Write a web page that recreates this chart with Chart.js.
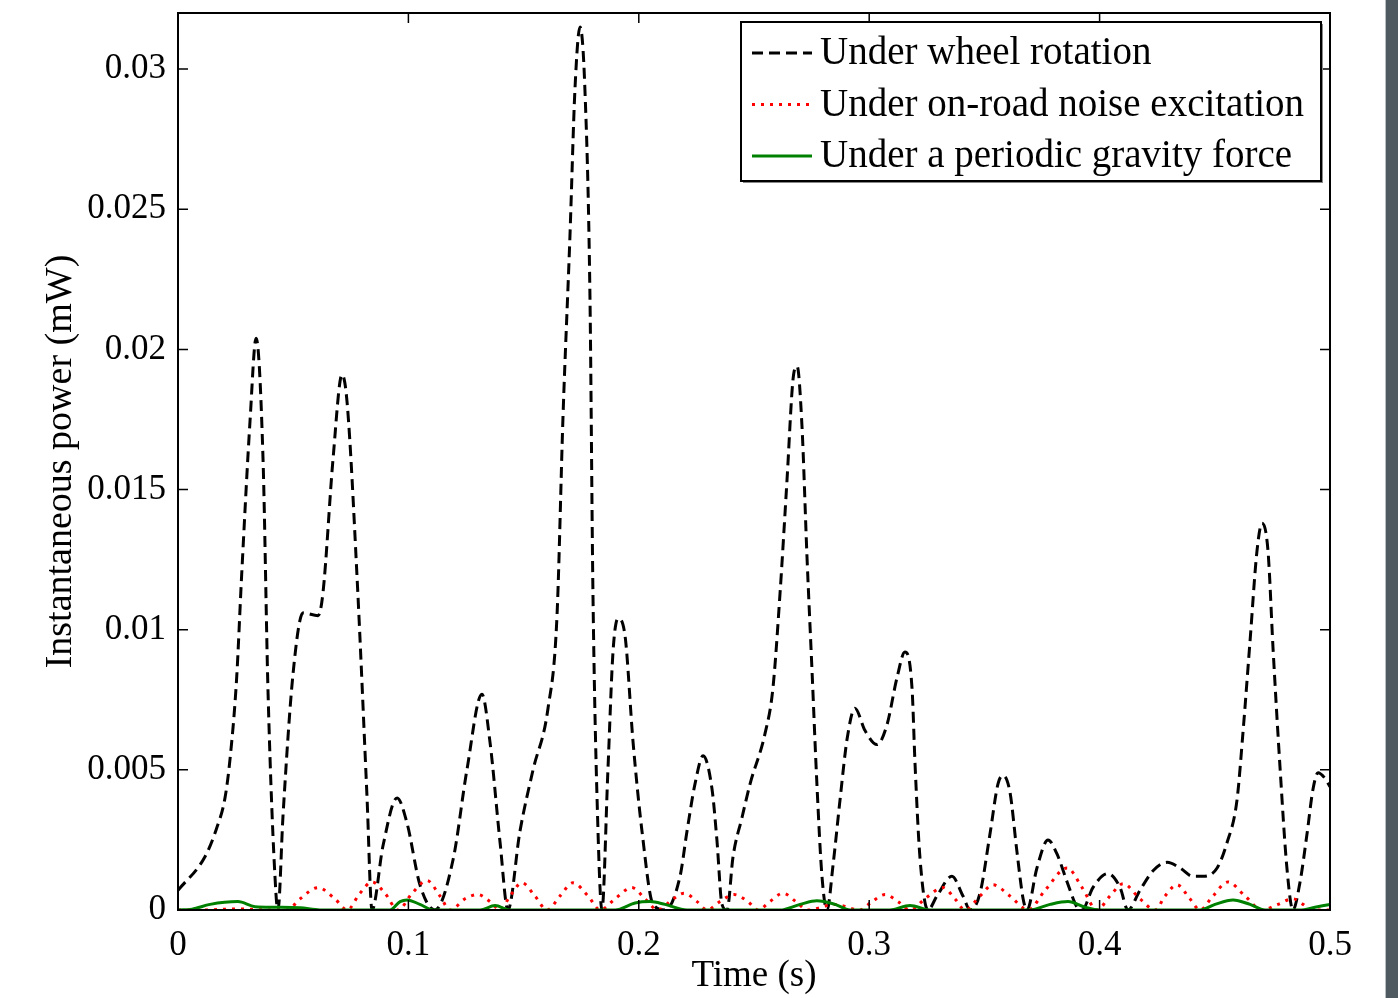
<!DOCTYPE html>
<html>
<head>
<meta charset="utf-8">
<script src="https://cdn.jsdelivr.net/npm/chart.js@4.4.1/dist/chart.umd.min.js"></script>
<style>
  html, body { margin: 0; padding: 0; background: #fff; }
  #wrap { position: relative; width: 1398px; height: 998px; }
  #strip { position: absolute; left: 1385px; top: 0; width: 13px; height: 998px; background: #4e5a5f; border-left: 1px solid #b8bfc2; box-sizing: border-box; }
</style>
</head>
<body>
<div id="wrap">
  <canvas id="myChart" width="1398" height="998"></canvas>
  <div id="strip"></div>
</div>
<script>
// values (time in s, power in mW)
const wheelTime = [0, 0.0117, 0.0167, 0.0204, 0.0226, 0.0254, 0.0276, 0.0313, 0.0339, 0.0369, 0.0391, 0.0425, 0.0434,
  0.0456, 0.0499, 0.0543, 0.0608, 0.0629, 0.0673, 0.0712, 0.0734, 0.0777, 0.082, 0.0842, 0.089, 0.0951, 0.0994, 0.105,
  0.1115, 0.1194, 0.1254, 0.1319, 0.1354, 0.1398, 0.1432, 0.1484, 0.1541, 0.1606, 0.1645, 0.1671, 0.1701, 0.1723, 0.1745,
  0.1766, 0.1788, 0.1801, 0.1823, 0.184, 0.1866, 0.1888, 0.191, 0.194, 0.1975, 0.2014, 0.2062, 0.2114, 0.2179, 0.2209,
  0.2244, 0.2279, 0.2318, 0.2339, 0.2361, 0.2383, 0.2409, 0.2448, 0.2483, 0.2548, 0.2582, 0.2613, 0.2643, 0.2669, 0.2687,
  0.2708, 0.273, 0.2752, 0.2773, 0.2795, 0.2817, 0.2843, 0.2873, 0.2904, 0.2938, 0.2982, 0.3034, 0.3077, 0.3121, 0.3155,
  0.3186, 0.3199, 0.322, 0.3255, 0.3294, 0.3359, 0.3407, 0.3438, 0.3481, 0.3524, 0.3559, 0.3581, 0.3611, 0.3641, 0.3668,
  0.3685, 0.3728, 0.3776, 0.3815, 0.3859, 0.3902, 0.3924, 0.3971, 0.4036, 0.4089, 0.4123, 0.4175, 0.4232, 0.4293, 0.4349,
  0.4405, 0.4449, 0.451, 0.4553, 0.4596, 0.4622, 0.4653, 0.4683, 0.4705, 0.4731, 0.4753, 0.4783, 0.4813, 0.4839, 0.487,
  0.49, 0.4926, 0.4948, 0.4978, 0.5];
const wheelPower = [0.0007, 0.0019, 0.0029, 0.004, 0.0054, 0.0082, 0.0119, 0.0175, 0.0204, 0.0161, 0.0077, 0.0006, 0,
  0.0034, 0.0084, 0.0106, 0.0105, 0.0113, 0.0161, 0.0191, 0.0181, 0.0119, 0.0041, 0, 0.0023, 0.004, 0.0031, 0.0009,
  0, 0.0018, 0.005, 0.0077, 0.006, 0.0024, 0, 0.0028, 0.005, 0.0072, 0.0105, 0.0176, 0.024, 0.0293, 0.0315,
  0.0293, 0.0219, 0.0113, 0.0028, 0, 0.005, 0.0092, 0.0104, 0.0098, 0.006, 0.0028, 0.0002, 0, 0.0012, 0.0028,
  0.0045, 0.0055, 0.0043, 0.0025, 0.0002, 0, 0.0019, 0.0033, 0.0045, 0.0063, 0.0079, 0.0113, 0.0153, 0.0189, 0.0194,
  0.0173, 0.0126, 0.0085, 0.0045, 0.0012, 0, 0.0016, 0.0039, 0.0061, 0.0072, 0.0064, 0.0059, 0.0066, 0.0083, 0.0092,
  0.0079, 0.0052, 0.0019, 0, 0.0005, 0.0012, 0.0005, 0, 0.0006, 0.0027, 0.0045, 0.0048, 0.0042, 0.0021, 0.0004,
  0, 0.0015, 0.0025, 0.002, 0.001, 0.0001, 0, 0.0008, 0.0013, 0.0008, 0, 0.0007, 0.0014, 0.0017, 0.0015,
  0.0012, 0.0012, 0.0015, 0.0024, 0.0039, 0.0063, 0.0096, 0.0128, 0.0138, 0.0128, 0.0093, 0.0051, 0.0015, 0, 0.001,
  0.0027, 0.0043, 0.0049, 0.0047, 0.0044];

const noiseTime = [0, 0.0095, 0.0269, 0.0399, 0.0473, 0.053, 0.0608, 0.0681, 0.0734, 0.079, 0.0842, 0.0898, 0.0955,
  0.1016, 0.1081, 0.1137, 0.1181, 0.1246, 0.1302, 0.1354, 0.1398, 0.1441, 0.1493, 0.1549, 0.1602, 0.1658, 0.1714, 0.178,
  0.1832, 0.1897, 0.197, 0.2027, 0.2083, 0.2135, 0.2196, 0.2253, 0.2296, 0.2352, 0.2413, 0.2474, 0.2517, 0.2569, 0.2626,
  0.2682, 0.2734, 0.2852, 0.296, 0.3012, 0.3069, 0.3125, 0.3177, 0.3242, 0.332, 0.3372, 0.3416, 0.3481, 0.3537, 0.3611,
  0.3689, 0.3763, 0.3859, 0.3924, 0.3989, 0.4045, 0.4102, 0.4175, 0.4241, 0.4284, 0.4336, 0.4392, 0.4436, 0.4492, 0.4557,
  0.4631, 0.4705, 0.4774, 0.4839, 0.4883, 0.4922, 0.5];
const noisePower = [0, 0, 0.00004, 0, 0, 0.0004, 0.0008, 0.0004, 0, 0.0006, 0.001, 0.0006, 0,
  0.0006, 0.00105, 0.0005, 0, 0.0004, 0.00055, 0.0003, 0, 0.0005, 0.00097, 0.0005, 0, 0.0005, 0.00097, 0.0005,
  0, 0.0004, 0.0008, 0.0004, 0, 0.0003, 0.0006, 0.0003, 0, 0.0003, 0.00055, 0.0003, 0, 0.0003, 0.0006,
  0.0003, 0, 0.0002, 0, 0.0003, 0.00055, 0.0003, 0, 0.0004, 0.0008, 0.0004, 0, 0.0005, 0.0009, 0.0005,
  0, 0.0007, 0.0015, 0.0008, 0, 0.0005, 0.00094, 0.0004, 0, 0.0005, 0.0009, 0.0004, 0, 0.0005, 0.001,
  0.0005, 0, 0.0002, 0.0004, 0.0002, 0, 0];

const gravityTime = [0, 0.0061, 0.0139, 0.026, 0.0334, 0.0421, 0.053, 0.0616, 0.092, 0.0964, 0.0994, 0.105, 0.1107,
  0.1311, 0.1376, 0.1441, 0.1897, 0.1984, 0.2049, 0.2114, 0.2209, 0.2613, 0.27, 0.2773, 0.2852, 0.2917, 0.309, 0.3177,
  0.3264, 0.3698, 0.3785, 0.3863, 0.3937, 0.4002, 0.4436, 0.4501, 0.4579, 0.4653, 0.4718, 0.487, 0.4935, 0.5];
const gravityPower = [0, 0.00003, 0.0002, 0.0003, 0.00012, 0.0001, 0.00008, 0, 0, 0.0003, 0.00036, 0.0002, 0,
  0, 0.00016, 0, 0, 0.00025, 0.0003, 0.0002, 0, 0, 0.0002, 0.00033, 0.0002, 0, 0, 0.00016,
  0, 0, 0.0002, 0.0003, 0.0001, 0, 0, 0.0002, 0.00036, 0.0002, 0, 0, 0.0001, 0.0002];

const seriesLabels = ['Under wheel rotation', 'Under on-road noise excitation', 'Under a periodic gravity force'];
const xTicks = [0, 0.1, 0.2, 0.3, 0.4, 0.5];
const yTicks = [0, 0.005, 0.01, 0.015, 0.02, 0.025, 0.03];

const FONT = "'Liberation Serif', 'Times New Roman', serif";

function toPoints(ts, vs) {
  return ts.map((t, i) => ({ x: t, y: vs[i] }));
}

// MATLAB-style box with ticks pointing inwards on all four sides
const innerTicks = {
  id: 'innerTicks',
  afterDatasetsDraw(chart) {
    const { ctx, chartArea: a, scales: { x, y } } = chart;
    ctx.save();
    ctx.strokeStyle = '#000';
    ctx.lineWidth = 1.5;
    ctx.beginPath();
    x.ticks.forEach(function (t) {
      const px = x.getPixelForValue(t.value);
      ctx.moveTo(px, a.bottom); ctx.lineTo(px, a.bottom - 10);
      ctx.moveTo(px, a.top); ctx.lineTo(px, a.top + 10);
    });
    y.ticks.forEach(function (t) {
      const py = y.getPixelForValue(t.value);
      ctx.moveTo(a.left, py); ctx.lineTo(a.left + 10, py);
      ctx.moveTo(a.right, py); ctx.lineTo(a.right - 10, py);
    });
    ctx.stroke();
    ctx.lineWidth = 2;
    ctx.strokeRect(a.left, a.top, a.right - a.left, a.bottom - a.top);
    ctx.restore();
  }
};

// legend box in the upper right corner
const boxLegend = {
  id: 'boxLegend',
  afterDraw(chart) {
    const { ctx, chartArea: a } = chart;
    const right = a.right - 9, top = a.top + 9, w = 580, h = 159;
    const left = right - w;
    ctx.save();
    ctx.fillStyle = '#888';
    ctx.fillRect(left + 2, top + 2, w, h);
    ctx.fillStyle = '#fff';
    ctx.fillRect(left, top, w, h);
    ctx.strokeStyle = '#000';
    ctx.lineWidth = 2;
    ctx.strokeRect(left, top, w, h);
    chart.data.datasets.forEach(function (ds, i) {
      const cy = top + 31 + i * 51.5;
      ctx.beginPath();
      ctx.strokeStyle = ds.borderColor;
      ctx.lineWidth = ds.borderWidth;
      ctx.setLineDash(ds.borderDash || []);
      ctx.moveTo(left + 11, cy);
      ctx.lineTo(left + 71, cy);
      ctx.stroke();
      ctx.setLineDash([]);
      ctx.fillStyle = '#000';
      ctx.font = '39px ' + FONT;
      ctx.textBaseline = 'middle';
      ctx.textAlign = 'left';
      ctx.fillText(ds.label, left + 79, cy + 1);
    });
    ctx.restore();
  }
};

const ctx = document.getElementById('myChart').getContext('2d');
const myChart = new Chart(ctx, {
  type: 'line',
  data: {
    datasets: [
      {
        label: seriesLabels[0],
        data: toPoints(wheelTime, wheelPower),
        borderColor: '#000000',
        borderWidth: 3,
        borderDash: [11, 6],
        order: 2
      },
      {
        label: seriesLabels[1],
        data: toPoints(noiseTime, noisePower),
        borderColor: '#ff0000',
        borderWidth: 3,
        borderDash: [3, 6],
        order: 1
      },
      {
        label: seriesLabels[2],
        data: toPoints(gravityTime, gravityPower),
        borderColor: '#008000',
        borderWidth: 3,
        order: 0
      }
    ]
  },
  options: {
    responsive: false,
    animation: false,
    events: [],
    cubicInterpolationMode: 'monotone',
    elements: { point: { radius: 0 } },
    layout: { padding: { left: 0, top: 13, right: 68, bottom: 0 } },
    plugins: {
      legend: { display: false },
      tooltip: { enabled: false }
    },
    scales: {
      x: {
        type: 'linear',
        min: 0,
        max: 0.5,
        grid: { display: false, drawTicks: false },
        border: { display: false },
        afterBuildTicks: function (s) { s.ticks = xTicks.map(v => ({ value: v })); },
        afterFit: function (s) { s.height = 88; s.paddingLeft = 0; s.paddingRight = 0; },
        ticks: {
          color: '#000',
          padding: 15,
          maxRotation: 0,
          font: { family: FONT, size: 35 },
          callback: v => String(v)
        },
        title: {
          display: true,
          text: 'Time (s)',
          color: '#000',
          font: { family: FONT, size: 37 },
          padding: { top: 0, bottom: 0 }
        }
      },
      y: {
        type: 'linear',
        min: 0,
        max: 0.032,
        grid: { display: false, drawTicks: false },
        border: { display: false },
        afterBuildTicks: function (s) { s.ticks = yTicks.map(v => ({ value: v })); },
        afterFit: function (s) { s.width = 178; s.paddingTop = 0; s.paddingBottom = 0; },
        ticks: {
          color: '#000',
          padding: 12,
          font: { family: FONT, size: 35 },
          callback: v => String(v)
        },
        title: {
          display: true,
          text: 'Instantaneous power (mW)',
          color: '#000',
          font: { family: FONT, size: 38 },
          padding: { top: 38, bottom: 0 }
        }
      }
    }
  },
  plugins: [innerTicks, boxLegend]
});
</script>
</body>
</html>
